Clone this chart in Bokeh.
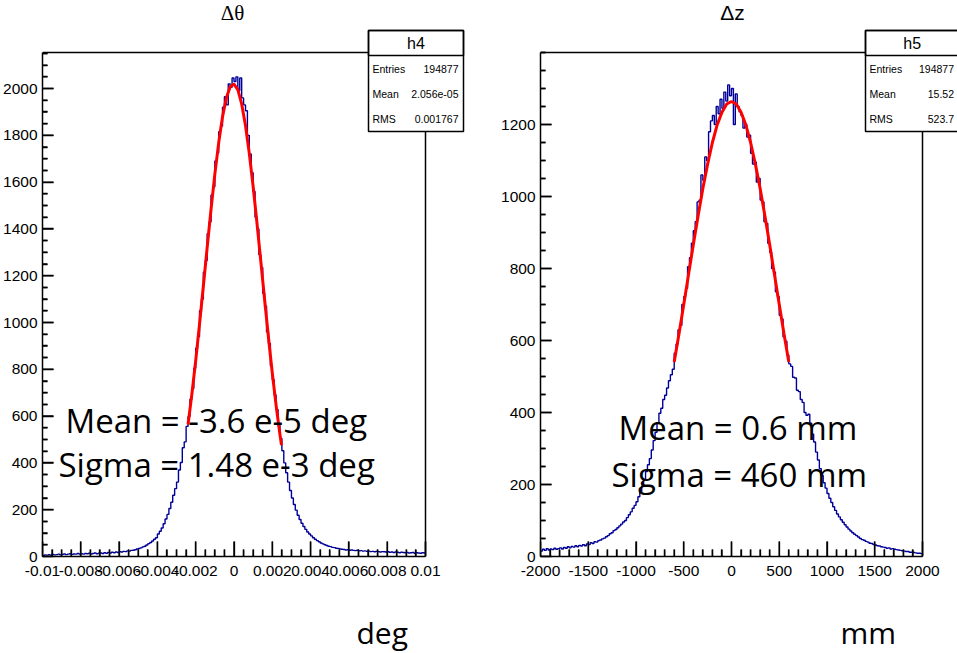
import numpy as np
from bokeh.plotting import figure
from bokeh.layouts import row, column
from bokeh.models import FixedTicker, Label, BoxAnnotation, Range1d
from bokeh.embed import file_html
from bokeh.resources import INLINE

# ---------------- data ----------------
# Left panel: delta theta histogram, 200 bins on [-0.01, 0.01]
theta_range = (-0.01, 0.01)
theta_counts = [
    5, 7, 6, 8, 6, 9, 7, 8, 10, 7,
    9, 11, 8, 10, 12, 9, 11, 10, 13, 11,
    12, 10, 13, 12, 14, 11, 13, 15, 12, 14,
    15, 13, 16, 14, 17, 15, 18, 16, 19, 17,
    20, 19, 22, 21, 24, 23, 26, 27, 29, 32,
    34, 37, 41, 44, 49, 55, 60, 66, 74, 80,
    96, 108, 122, 140, 160, 180, 205, 232, 262, 290,
    318, 370, 402, 465, 490, 556, 598, 672, 718, 805,
    890, 940, 1050, 1100, 1215, 1265, 1380, 1430, 1545, 1580,
    1690, 1725, 1815, 1840, 1920, 1965, 1930, 2020, 2005, 2045,
    2030, 2050, 1990, 2045, 1960, 1930, 1905, 1800, 1720, 1640,
    1560, 1450, 1400, 1290, 1235, 1125, 1070, 960, 910, 815,
    755, 690, 628, 560, 505, 452, 400, 358, 318, 282,
    250, 222, 198, 176, 158, 142, 128, 116, 105, 96,
    88, 80, 74, 68, 63, 58, 54, 50, 47, 44,
    42, 39, 38, 35, 34, 32, 31, 30, 28, 29,
    27, 28, 26, 25, 27, 24, 25, 23, 24, 22,
    23, 21, 22, 20, 22, 21, 19, 21, 20, 19,
    20, 18, 19, 17, 19, 18, 16, 18, 17, 16,
    17, 15, 16, 17, 14, 16, 15, 14, 16, 15,
]
theta_fit_x = [-0.0024, -0.0022, -0.0020, -0.0018, -0.0016, -0.0014, -0.0012,
               -0.0010, -0.0008, -0.0006, -0.0004, -0.0002, 0.0, 0.0002, 0.0004,
               0.0006, 0.0008, 0.0010, 0.0012, 0.0014, 0.0016, 0.0018, 0.0020,
               0.0022, 0.0024, 0.00248]
theta_fit_y = [564, 694, 837, 993, 1156, 1321, 1483, 1634, 1768, 1879, 1960,
               2008, 2019, 1995, 1934, 1842, 1722, 1581, 1425, 1261, 1097, 936,
               784, 645, 521, 476]
theta_ticks = [-0.01, -0.008, -0.006, -0.004, -0.002, 0.0, 0.002, 0.004, 0.006, 0.008, 0.01]
theta_tick_labels = ["-0.01", "-0.008", "-0.006", "-0.004", "-0.002", "0",
                     "0.002", "0.004", "0.006", "0.008", "0.01"]
theta_yticks = [0, 200, 400, 600, 800, 1000, 1200, 1400, 1600, 1800, 2000]
theta_ymax = 2154

# Right panel: delta z histogram, 200 bins on [-2000, 2000]
z_range = (-2000, 2000)
z_counts = [
    15, 20, 17, 22, 18, 21, 19, 23, 20, 22,
    24, 21, 25, 23, 27, 24, 28, 26, 30, 27,
    31, 29, 33, 30, 35, 33, 38, 36, 41, 40,
    44, 46, 49, 51, 55, 58, 63, 66, 72, 75,
    80, 85, 90, 96, 100, 108, 116, 124, 134, 142,
    152, 166, 180, 196, 214, 236, 255, 272, 296, 322,
    345, 372, 398, 412, 436, 448, 468, 488, 505, 520,
    565, 590, 630, 642, 700, 722, 745, 805, 830, 870,
    905, 930, 985, 990, 1060, 1045, 1110, 1100, 1180, 1210,
    1225, 1200, 1250, 1230, 1270, 1245, 1290, 1265, 1310, 1280,
    1300, 1200, 1285, 1250, 1235, 1225, 1190, 1200, 1165, 1170,
    1120, 1090, 1095, 1040, 1050, 990, 985, 930, 925, 870,
    845, 800, 790, 735, 722, 670, 660, 610, 598, 560,
    535, 528, 498, 496, 462, 458, 436, 428, 400, 392,
    395, 370, 340, 318, 290, 268, 244, 225, 205, 190,
    175, 162, 150, 138, 128, 118, 110, 102, 95, 88,
    82, 76, 71, 66, 62, 58, 54, 50, 47, 45,
    42, 40, 37, 36, 33, 32, 30, 29, 27, 26,
    25, 23, 24, 21, 22, 20, 19, 18, 17, 16,
    15, 14, 14, 12, 12, 11, 10, 9, 9, 8,
]
z_fit_x = [-600, -550, -500, -450, -400, -350, -300, -250, -200, -150, -100, -50, 0,
           50, 100, 150, 200, 250, 300, 350, 400, 450, 500, 550, 600]
z_fit_y = [540, 618, 700, 783, 866, 946, 1022, 1090, 1150, 1199, 1234, 1257, 1264,
           1257, 1234, 1199, 1150, 1090, 1022, 946, 866, 783, 700, 618, 540]
z_ticks = [-2000, -1500, -1000, -500, 0, 500, 1000, 1500, 2000]
z_tick_labels = ["-2000", "-1500", "-1000", "-500", "0", "500", "1000", "1500", "2000"]
z_yticks = [0, 200, 400, 600, 800, 1000, 1200]
z_ymax = 1400

stat_names = ["Entries", "Mean", "RMS"]
h4_values = ["194877", "2.056e-05", "0.001767"]
h5_values = ["194877", "15.52", "523.7"]
unit_labels = ["deg", "mm"]

# ---------------- drawing ----------------
HIST_COLOR = "#000099"
AX_FONT = "Liberation Sans"
PANEL_H = 605        # height of the two plot panels
STRIP_H = 653 - PANEL_H
AX_TOP = 52          # canvas y of the drawn top border
AX_BOTTOM = 556      # canvas y of the x axis


def make_panel(fig_w, ax_left, ax_right, xr, counts, fit_x, fit_y, ticks, tick_labels,
               x_minor, yticks, y_minor, ymax, title_text, title_font, title_x,
               hname, values, box_x0, box_x1, fit_texts):
    frame_w = fig_w - ax_left
    x_per_px = (xr[1] - xr[0]) / (ax_right - ax_left)
    y_per_px = ymax / (AX_BOTTOM - AX_TOP)
    x_end = xr[1] + (fig_w - ax_right) * x_per_px
    y_end = ymax + AX_TOP * y_per_px

    p = figure(frame_width=frame_w, frame_height=AX_BOTTOM,
               x_range=Range1d(xr[0], x_end), y_range=Range1d(0, y_end),
               output_backend="svg", toolbar_location=None,
               min_border_left=ax_left, min_border_right=0,
               min_border_top=0, min_border_bottom=PANEL_H - AX_BOTTOM)
    p.grid.visible = False
    p.outline_line_color = None
    p.background_fill_color = "white"
    p.border_fill_color = "white"

    edges = np.linspace(xr[0], xr[1], len(counts) + 1)
    p.step(x=edges, y=list(counts) + [counts[-1]], mode="after",
           line_color=HIST_COLOR, line_width=1.4)
    p.line(fit_x, fit_y, line_color="red", line_width=3)

    # frame top / right border
    p.line(x=[xr[0], xr[1], xr[1]], y=[ymax, ymax, 0], line_color="black", line_width=1.5)

    # inward tick marks (ROOT style) as glyph segments
    minor_x = [float(t) for t in x_minor if t not in ticks]
    minor_y = [float(t) for t in y_minor if t not in yticks]
    xt = [float(t) for t in ticks] + minor_x
    xt_top = [15 * y_per_px] * len(ticks) + [7 * y_per_px] * len(minor_x)
    p.segment(x0=xt, y0=[0.0] * len(xt), x1=xt, y1=xt_top,
              line_color="black", line_width=1.5)
    yt = [float(t) for t in yticks] + minor_y
    yt_right = ([xr[0] + 11 * x_per_px] * len(yticks) + [xr[0] + 5 * x_per_px] * len(minor_y))
    p.segment(x0=[float(xr[0])] * len(yt), y0=yt, x1=yt_right, y1=yt,
              line_color="black", line_width=1.5)

    xa = p.xaxis[0]
    xa.bounds = xr
    xa.ticker = FixedTicker(ticks=ticks, minor_ticks=minor_x)
    xa.major_label_overrides = {t: l for t, l in zip(ticks, tick_labels)}
    xa.major_tick_in = 15
    xa.major_tick_out = 0
    xa.minor_tick_in = 7
    xa.minor_tick_out = 0
    xa.major_tick_line_width = 1.3
    xa.minor_tick_line_width = 1.3
    xa.axis_line_width = 1.5
    xa.major_label_text_font = AX_FONT
    xa.major_label_text_font_size = "15.5px"
    xa.major_label_text_color = "black"
    xa.major_label_standoff = 9

    ya = p.yaxis[0]
    ya.bounds = (0, ymax)
    ya.ticker = FixedTicker(ticks=yticks, minor_ticks=minor_y)
    ya.major_label_overrides = {t: str(t) for t in yticks}
    ya.major_tick_in = 11
    ya.major_tick_out = 0
    ya.minor_tick_in = 5
    ya.minor_tick_out = 0
    ya.major_tick_line_width = 1.3
    ya.minor_tick_line_width = 1.3
    ya.axis_line_width = 1.5
    ya.major_label_text_font = AX_FONT
    ya.major_label_text_font_size = "15.5px"
    ya.major_label_text_color = "black"
    ya.major_label_standoff = 5

    def sx(cx):
        return cx - ax_left

    def sy(cy):
        return AX_BOTTOM - cy

    # title
    p.add_layout(Label(x=sx(title_x), y=sy(12), x_units="screen", y_units="screen",
                       text=title_text, text_font=title_font, text_font_size="21px",
                       text_align="center", text_baseline="middle",
                       text_color="black"))

    # stats box
    p.add_layout(BoxAnnotation(left=sx(box_x0), right=sx(box_x1), top=sy(30), bottom=sy(131),
                               left_units="screen", right_units="screen",
                               top_units="screen", bottom_units="screen",
                               fill_color="white", fill_alpha=1.0,
                               line_color="black", line_width=1.5, line_alpha=1.0,
                               level="overlay"))
    p.add_layout(BoxAnnotation(left=sx(box_x0), right=sx(box_x1), top=sy(30), bottom=sy(55),
                               left_units="screen", right_units="screen",
                               top_units="screen", bottom_units="screen",
                               fill_alpha=0.0, line_color="black", line_width=1.5,
                               line_alpha=1.0, level="overlay"))
    p.add_layout(Label(x=sx((box_x0 + box_x1) / 2), y=sy(43), x_units="screen", y_units="screen",
                       text=hname, text_font=AX_FONT, text_font_size="16px",
                       text_align="center", text_baseline="middle", text_color="black",
                       level="overlay"))
    for i, (nm, val) in enumerate(zip(stat_names, values)):
        cy = 68 + 25 * i
        p.add_layout(Label(x=sx(box_x0 + 4), y=sy(cy), x_units="screen", y_units="screen",
                           text=nm, text_font=AX_FONT, text_font_size="10.5px",
                           text_align="left", text_baseline="middle", text_color="black",
                           level="overlay"))
        p.add_layout(Label(x=sx(box_x1 - 5), y=sy(cy), x_units="screen", y_units="screen",
                           text=val, text_font=AX_FONT, text_font_size="10.5px",
                           text_align="right", text_baseline="middle", text_color="black",
                           level="overlay"))

    # fit result texts
    for (txt, cx, cy) in fit_texts:
        p.add_layout(Label(x=sx(cx), y=sy(cy), x_units="screen", y_units="screen",
                           text=txt, text_font="Open Sans", text_font_size="33px",
                           text_align="left", text_baseline="alphabetic",
                           text_color="black", level="overlay"))
    return p


theta_xminor = list(np.round(np.arange(-0.01, 0.01001, 0.0005), 6))
theta_yminor = list(range(0, 2151, 50))
z_xminor = list(range(-2000, 2001, 100))
z_yminor = list(range(0, 1401, 50))

p1 = make_panel(478, 41, 424, theta_range, theta_counts, theta_fit_x, theta_fit_y,
                theta_ticks, theta_tick_labels, theta_xminor, theta_yticks, theta_yminor,
                theta_ymax, "\u0394\u03b8", "Liberation Serif", 231,
                "h4", h4_values, 367, 462,
                [("Mean = -3.6 e-5 deg", 64, 420), ("Sigma = 1.48 e-3 deg", 57, 464)])

p2 = make_panel(479, 61, 921 - 478, z_range, z_counts, z_fit_x, z_fit_y,
                z_ticks, z_tick_labels, z_xminor, z_yticks, z_yminor,
                z_ymax, "\u0394z", "Liberation Sans", 731 - 478,
                "h5", h5_values, 864 - 478, 479.5,
                [("Mean = 0.6 mm", 617 - 478, 427), ("Sigma = 460 mm", 610 - 478, 474)])

# strip below both panels holding the unit labels (canvas coordinates)
strip = figure(width=957, height=STRIP_H, x_range=Range1d(0, 957),
               y_range=Range1d(653, PANEL_H), output_backend="svg", toolbar_location=None,
               x_axis_type=None, y_axis_type=None, min_border=0)
strip.grid.visible = False
strip.outline_line_color = None
strip.border_fill_color = "white"
for txt, ux in zip(unit_labels, [356, 840]):
    strip.add_layout(Label(x=ux, y=632, text=txt, text_font="Open Sans",
                           text_font_size="30px", text_align="left",
                           text_baseline="alphabetic", text_color="black"))

layout = column(row(p1, p2, spacing=0), strip, spacing=0)
open("out.html", "w").write(file_html(layout, INLINE))
